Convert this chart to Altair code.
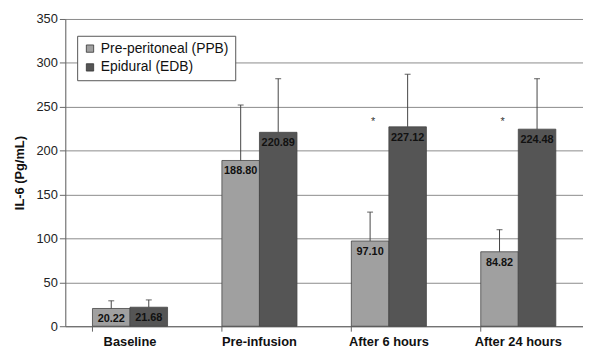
import altair as alt
import pandas as pd

categories = ["Baseline", "Pre-infusion", "After 6 hours", "After 24 hours"]
groups = ["Pre-peritoneal (PPB)", "Epidural (EDB)"]
ppb_values = [20.22, 188.80, 97.10, 84.82]
edb_values = [21.68, 220.89, 227.12, 224.48]
ppb_upper = [29, 252, 130, 110]
edb_upper = [30, 282, 287, 282]
asterisk_cats = ["After 6 hours", "After 24 hours"]
asterisk_y = [233, 233]

rows = []
for i, c in enumerate(categories):
    rows.append({"cat": c, "group": groups[0], "value": ppb_values[i], "upper": ppb_upper[i],
                 "label": f"{ppb_values[i]:.2f}"})
    rows.append({"cat": c, "group": groups[1], "value": edb_values[i], "upper": edb_upper[i],
                 "label": f"{edb_values[i]:.2f}"})
df = pd.DataFrame(rows)
ast = pd.DataFrame({"cat": asterisk_cats, "group": [groups[0]] * 2, "y": asterisk_y, "t": ["*", "*"]})

FONT = "Liberation Sans"

x = alt.X("cat:N", sort=categories, title=None,
          scale=alt.Scale(paddingInner=0.42, paddingOuter=0.21),
          axis=alt.Axis(labelAngle=0, labelFontWeight="bold", labelFontSize=13, labelColor="#111",
                        labelFont=FONT, bandPosition=0, tickSize=5, tickColor="#666",
                        domainColor="#666", labelPadding=4, grid=False))
xo = alt.XOffset("group:N", sort=groups)
yscale = alt.Scale(domain=[0, 350])

bars = alt.Chart(df).mark_bar(stroke="#444", strokeWidth=0.8).encode(
    x=x, xOffset=xo,
    y=alt.Y("value:Q", scale=yscale, title="IL-6 (Pg/mL)",
            axis=alt.Axis(values=[0, 50, 100, 150, 200, 250, 300, 350], gridColor="#8a8a8a",
                          gridWidth=1, domainColor="#666", tickColor="#666", tickSize=6,
                          labelFontSize=13, labelColor="#222", labelFont=FONT, labelPadding=2,
                          titleFont=FONT, titleFontSize=13, titleFontWeight="bold",
                          titleColor="#111", titlePadding=10)),
    color=alt.Color("group:N", sort=groups,
                    scale=alt.Scale(domain=groups, range=["#a0a0a0", "#555555"]),
                    legend=alt.Legend(title=None, orient="none", legendX=12, legendY=17,
                                      symbolType="square", symbolSize=55, symbolStrokeColor="#333",
                                      symbolStrokeWidth=0.8, labelFontSize=14, labelFont=FONT,
                                      labelColor="#111", rowPadding=5, padding=6,
                                      strokeColor="#555", fillColor="white")),
)

err = alt.Chart(df).mark_rule(color="#444", strokeWidth=1).encode(
    x=x, xOffset=xo, y=alt.Y("value:Q", scale=yscale), y2="upper:Q")
caps = alt.Chart(df).mark_tick(color="#444", thickness=1.2, size=6).encode(
    x=x, xOffset=xo, y=alt.Y("upper:Q", scale=yscale))

labels = alt.Chart(df).mark_text(baseline="top", dy=5, fontWeight="bold", fontSize=11,
                                 font=FONT, color="#111").encode(
    x=x, xOffset=xo, y=alt.Y("value:Q", scale=yscale), text="label:N")

stars = alt.Chart(ast).mark_text(fontSize=11, font=FONT, color="#333", dx=3).encode(
    x=x, xOffset=alt.XOffset("group:N", sort=groups, scale=alt.Scale(domain=groups)),
    y=alt.Y("y:Q", scale=yscale), text="t:N")

chart = alt.layer(bars, err, caps, labels, stars).properties(
    width=524, height=311,
    autosize=alt.AutoSizeParams(type="none"),
    padding={"left": 58, "top": 9, "right": 0, "bottom": 27},
).configure_view(stroke="#777", strokeWidth=1).configure(background="white")

chart.save("out.html", embed_options={"renderer": "svg", "actions": False})
